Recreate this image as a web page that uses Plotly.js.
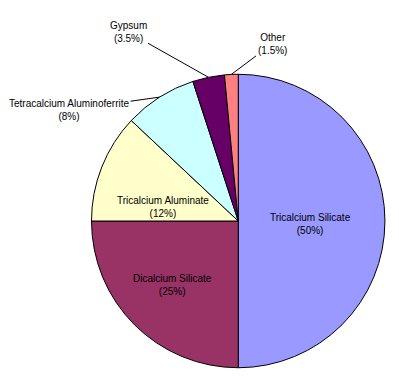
<!DOCTYPE html>
<html>
<head>
<meta charset="utf-8">
<script src="https://cdn.plot.ly/plotly-3.0.1.min.js"></script>
<style>html,body{margin:0;padding:0;background:#fff;}#chart{width:399px;height:382px;}</style>
</head>
<body>
<div id="chart"></div>
<script>
// ---- data ----
const categories = ["Tricalcium Silicate", "Dicalcium Silicate", "Tricalcium Aluminate",
                    "Tetracalcium Aluminoferrite", "Gypsum", "Other"];
const percents = [50, 25, 12, 8, 3.5, 1.5];
const sliceColors = ["#9999FF", "#993366", "#FFFFCC", "#CCFFFF", "#660066", "#FF8080"];

// ---- layout constants (pixels) ----
const W = 399, H = 382;
const pieLeft = 91.5, pieRight = 385, pieTop = 74, pieBottom = 368;
// label centres (pixels) and whether they use a leader line
const labelPos = [
  {x: 310, y: 224, leader: false},
  {x: 172, y: 285, leader: false},
  {x: 163, y: 207, leader: false},
  {x: 69,  y: 110, leader: true},
  {x: 128, y: 32,  leader: true},
  {x: 272, y: 44,  leader: true}
];

const cx = (pieLeft + pieRight) / 2, cy = (pieTop + pieBottom) / 2;
const R = Math.min(pieRight - pieLeft, pieBottom - pieTop) / 2;
const total = percents.reduce((a, b) => a + b, 0);

const fontFam = "Liberation Sans, Arial, sans-serif";
const annotations = [];
let cum = 0;
categories.forEach((c, i) => {
  const mid = (cum + percents[i] / 2) / total * 2 * Math.PI; // clockwise from top
  cum += percents[i];
  const text = c + "<br>(" + percents[i] + "%)";
  const lp = labelPos[i];
  if (lp.leader) {
    const px = cx + R * Math.sin(mid), py = cy - R * Math.cos(mid);
    annotations.push({
      xref: "paper", yref: "paper", x: px / W, y: 1 - py / H,
      ax: lp.x - px, ay: lp.y - py, axref: "pixel", ayref: "pixel",
      text: text, showarrow: true, arrowhead: 0, arrowwidth: 1, arrowcolor: "#000",
      standoff: 0, startstandoff: 0,
      font: {family: fontFam, size: 10, color: "#000"}, align: "center"
    });
  } else {
    annotations.push({
      xref: "paper", yref: "paper", x: lp.x / W, y: 1 - lp.y / H,
      xanchor: "center", yanchor: "middle", showarrow: false,
      text: text, font: {family: fontFam, size: 10, color: "#000"}, align: "center"
    });
  }
});

const trace = {
  type: "pie",
  labels: categories,
  values: percents,
  sort: false,
  direction: "clockwise",
  rotation: 0,
  marker: {colors: sliceColors, line: {color: "#000", width: 1}},
  textinfo: "none",
  hoverinfo: "label+percent",
  domain: {x: [pieLeft / W, pieRight / W], y: [1 - pieBottom / H, 1 - pieTop / H]}
};

const layout = {
  width: W, height: H,
  margin: {l: 0, r: 0, t: 0, b: 0},
  paper_bgcolor: "#fff", plot_bgcolor: "#fff",
  showlegend: false,
  annotations: annotations
};

Plotly.newPlot("chart", [trace], layout, {displayModeBar: false, staticPlot: true});
</script>
</body>
</html>
